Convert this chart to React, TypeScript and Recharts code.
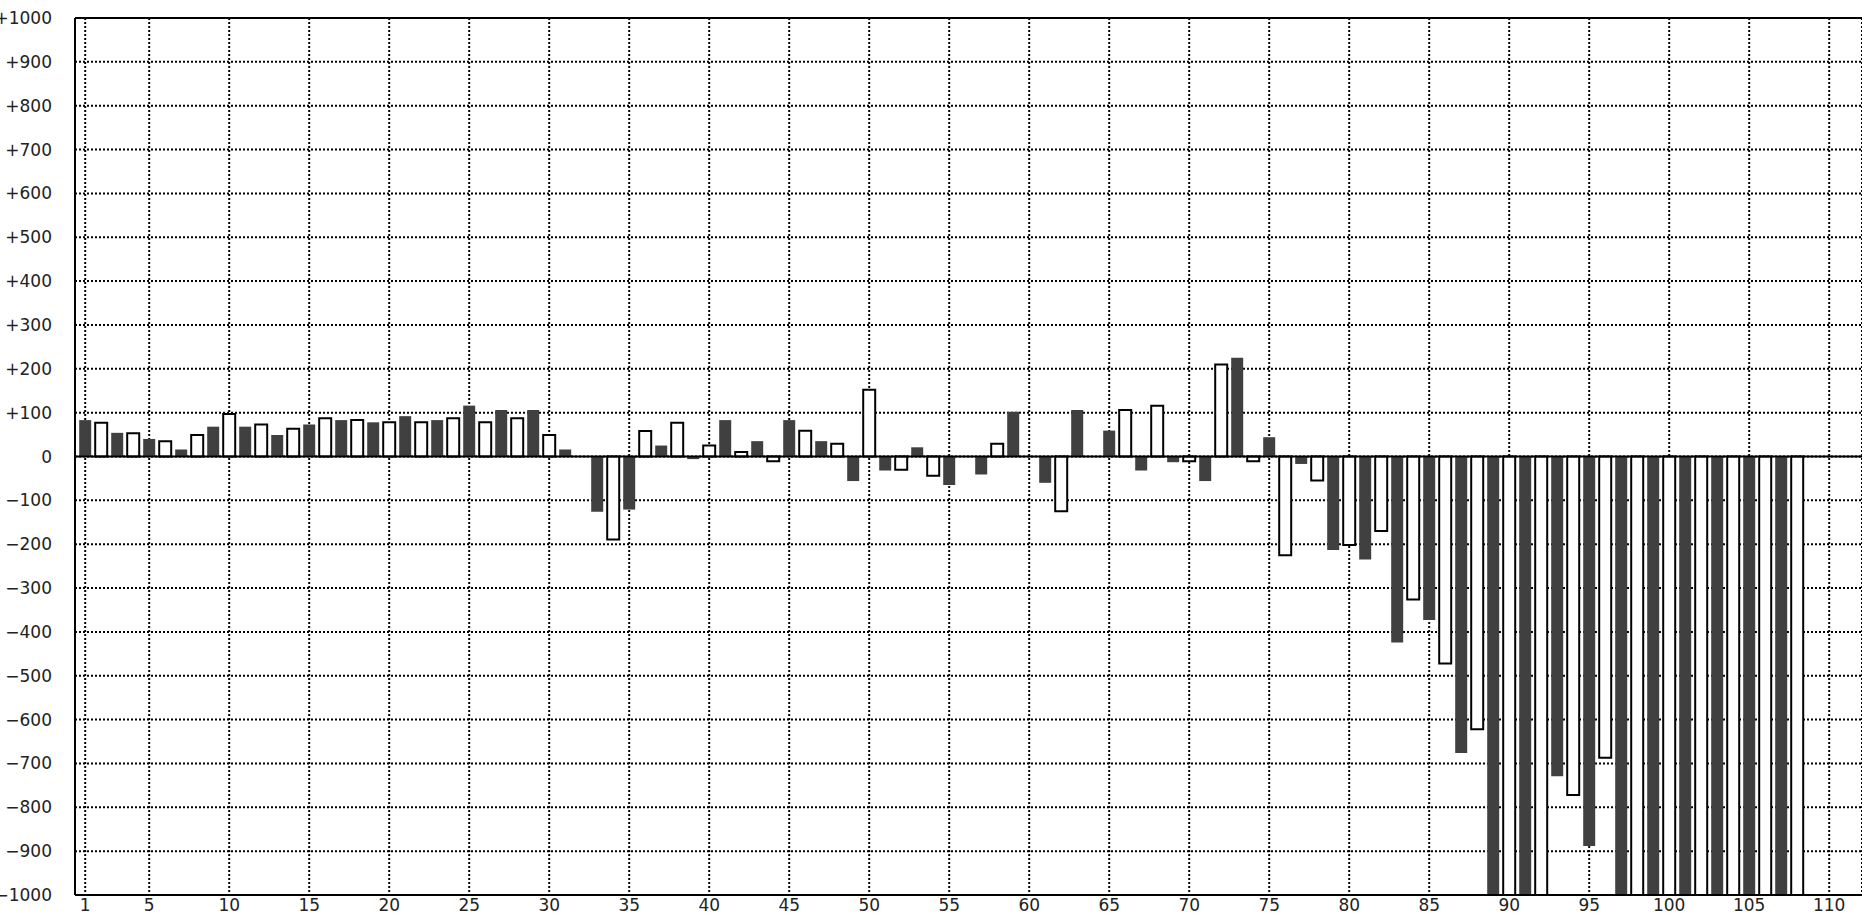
import React from "react";
import {
  BarChart,
  Bar,
  Cell,
  XAxis,
  YAxis,
  CartesianGrid,
  ReferenceLine,
} from "recharts";

// odd positions (1, 3, 5, ...) are the dark bars, even positions the open ones
const darkValues = [
  83, 54, 40, 16, 68, 68, 49, 73, 83, 78, 92, 83, 116, 106, 106, 16, -126,
  -121, 25, -6, 83, 35, 83, 35, -56, -32, 21, -65, -41, 102, -60, 106, 59,
  -32, -13, -56, 225, 44, -17, -213, -235, -424, -373, -676, -1000, -1000,
  -729, -888, -1000, -1000, -1000, -1000, -1000, -1000,
];

const lightValues = [
  77, 53, 35, 49, 97, 73, 63, 87, 83, 78, 78, 87, 78, 87, 49, 0, -189, 58,
  77, 25, 10, -11, 59, 29, 152, -30, -44, 0, 29, 0, -125, 0, 106, 116, -11,
  210, -11, -225, -55, -202, -170, -326, -472, -622, -1000, -1000, -772, -687,
  -1000, -1000, -1000, -1000, -1000, -1000,
];

const xTicks = [1, 5, 10, 15, 20, 25, 30, 35, 40, 45, 50, 55, 60, 65, 70, 75, 80, 85, 90, 95, 100, 105, 110];
const yTicks = [
  -1000, -900, -800, -700, -600, -500, -400, -300, -200, -100, 0, 100, 200,
  300, 400, 500, 600, 700, 800, 900, 1000,
];

const data = darkValues.flatMap((d, i) => [
  { x: i * 2 + 1, value: d, dark: true },
  { x: i * 2 + 2, value: lightValues[i], dark: false },
]);

const tickStyle = { fontSize: 17, fill: "#222", fontFamily: "DejaVu Sans" };

const formatY = (v: number) => (v > 0 ? `+${v}` : v < 0 ? `\u2212${-v}` : "0");

export default function App() {
  return (
    <div
      style={{
        position: "absolute",
        left: 0,
        top: 0,
        width: 1862,
        height: 916,
        overflow: "hidden",
        background: "#fff",
      }}
    >
      <BarChart
        width={1862}
        height={916}
        data={data}
        margin={{ top: 18, right: 0, bottom: 0, left: 0 }}
      >
        <CartesianGrid stroke="#000" strokeWidth={2} strokeDasharray="2 2" />
        <XAxis
          type="number"
          dataKey="x"
          domain={[0.3625, 112.05]}
          ticks={xTicks}
          interval={0}
          height={21}
          tickSize={0}
          tickMargin={4}
          tick={tickStyle}
          axisLine={{ stroke: "#000", strokeWidth: 2 }}
          tickLine={false}
        />
        <YAxis
          type="number"
          domain={[-1000, 1000]}
          ticks={yTicks}
          interval={0}
          width={75}
          tickSize={0}
          tickMargin={23}
          tick={tickStyle}
          tickFormatter={formatY}
          axisLine={{ stroke: "#000", strokeWidth: 2 }}
          tickLine={false}
          allowDataOverflow
        />
        <Bar dataKey="value" barSize={12} isAnimationActive={false}>
          {data.map((d) => (
            <Cell
              key={d.x}
              fill={d.dark ? "#404040" : "#fff"}
              stroke={d.dark ? "none" : "#000"}
              strokeWidth={d.dark ? 0 : 2}
            />
          ))}
        </Bar>
        <ReferenceLine y={0} stroke="#000" strokeWidth={2} />
        <ReferenceLine y={1000} stroke="#000" strokeWidth={2} />
      </BarChart>
    </div>
  );
}
